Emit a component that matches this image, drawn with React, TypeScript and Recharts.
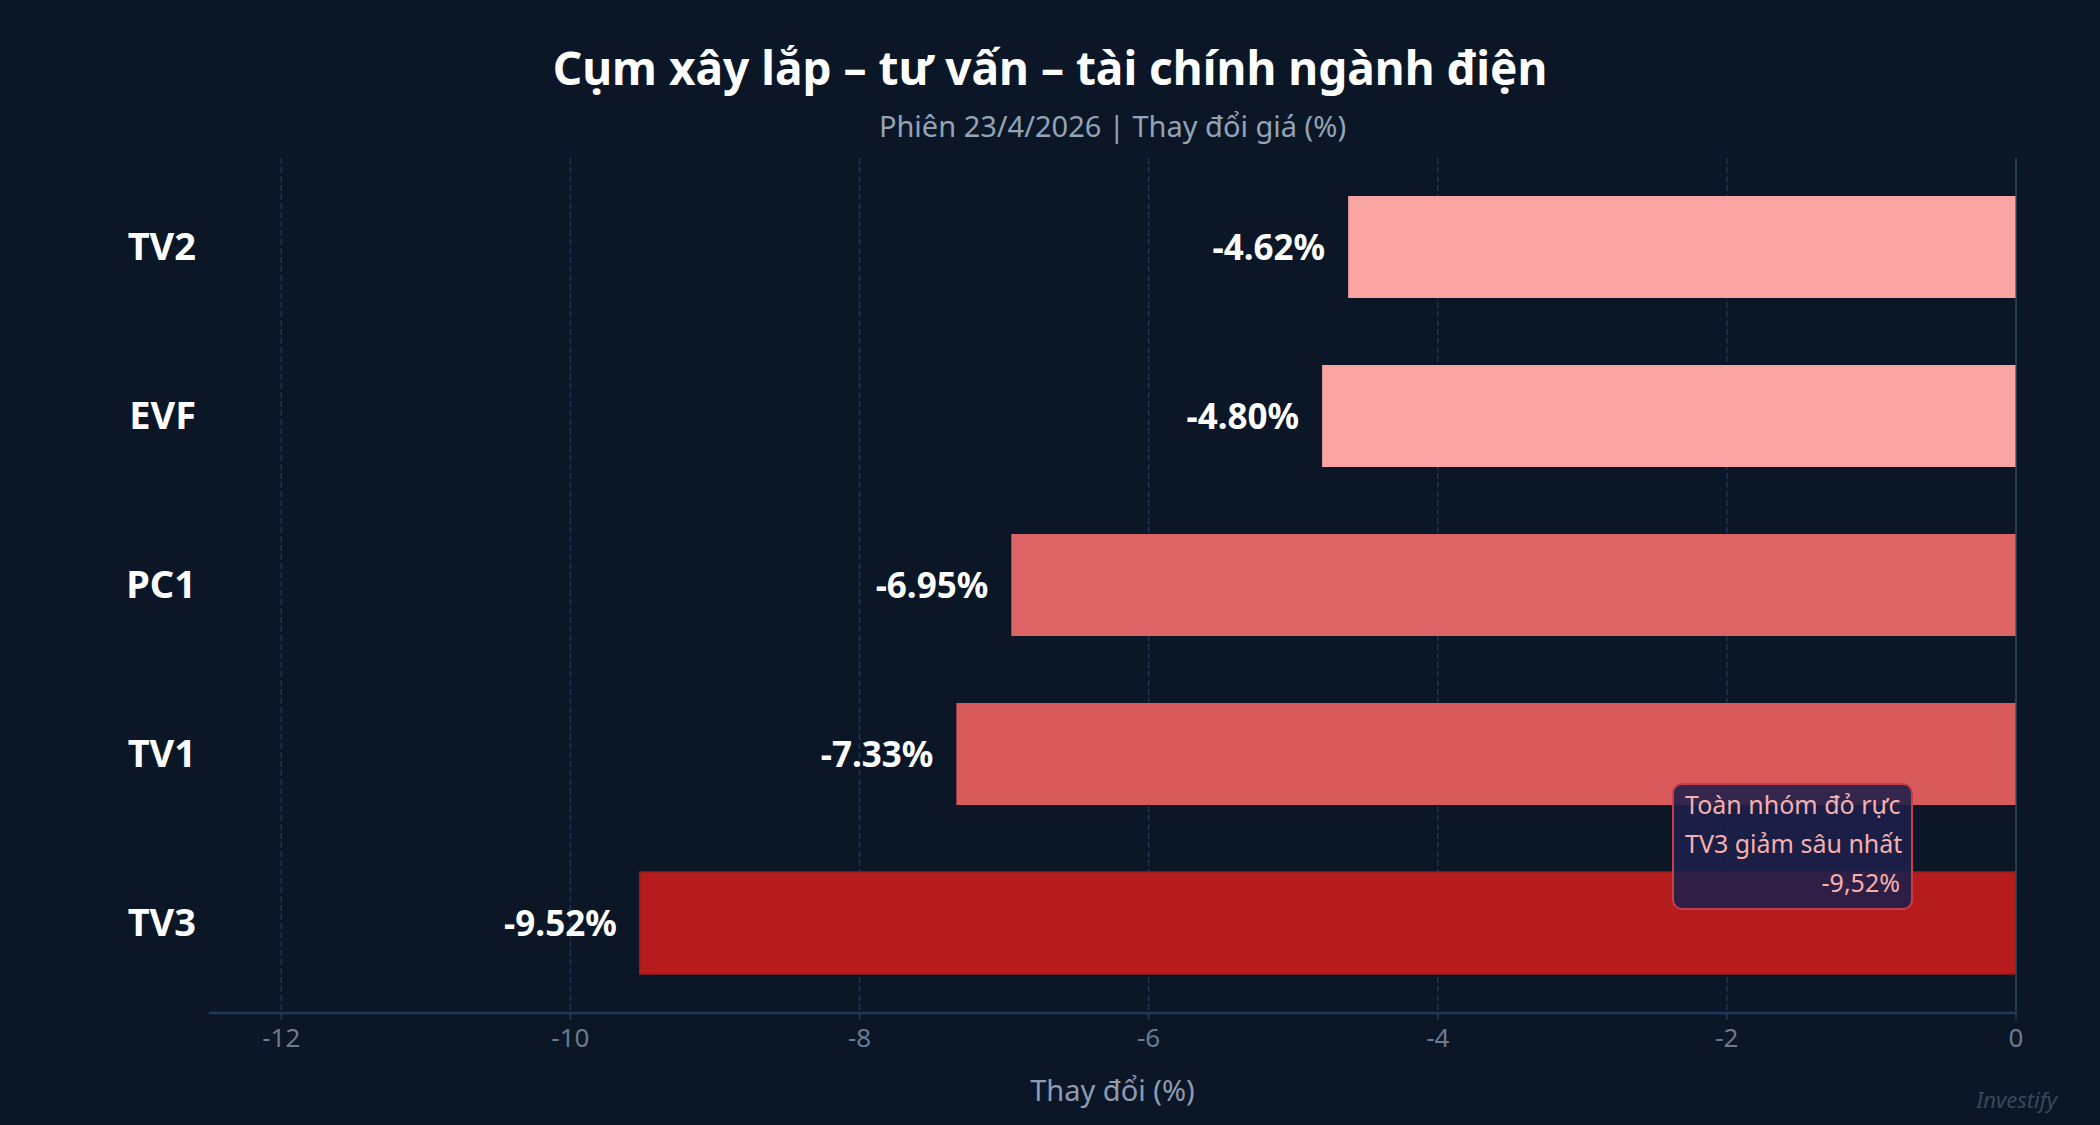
import { BarChart, Bar, XAxis, YAxis, CartesianGrid, Cell, LabelList, Label, ReferenceLine } from "recharts";

const TICKERS = ["TV2", "EVF", "PC1", "TV1", "TV3"];
const CHANGES = [-4.62, -4.8, -6.95, -7.33, -9.52];
const X_TICKS = [-12, -10, -8, -6, -4, -2, 0];
const BAR_COLORS = ["#F9A3A3", "#F9A3A3", "#DE6565", "#D85A5A", "#B71C1C"];

const TITLE = "Cụm xây lắp – tư vấn – tài chính ngành điện";
const SUBTITLE = "Phiên 23/4/2026 | Thay đổi giá (%)";
const NOTE_LINES = ["Toàn nhóm đỏ rực", "TV3 giảm sâu nhất", "-9,52%"];

const BG = "#0B1727";
const FONT = "'Noto Sans', 'DejaVu Sans', sans-serif";

const rows = TICKERS.map((name, i) => ({ name, value: CHANGES[i] }));

function TickerTick(props: any) {
  const { x, y, payload } = props;
  return (
    <text x={x} y={y} dy="0.36em" textAnchor="end" fill="#FFFFFF" fontSize={38} fontWeight={700} fontFamily={FONT}>
      {payload.value}
    </text>
  );
}

function ValueLabel(props: any) {
  const { x, y, width, height, value } = props;
  const left = Math.min(x, x + width);
  return (
    <text x={left - 23} y={y + height / 2} dy="0.36em" textAnchor="end" fill="#FFFFFF" fontSize={35} fontWeight={700} fontFamily={FONT}>
      {`${Number(value).toFixed(2)}%`}
    </text>
  );
}

export default function App() {
  return (
    <div style={{ position: "absolute", left: 0, top: 0, width: 2100, height: 1125, background: BG, fontFamily: FONT, overflow: "hidden" }}>
      <div style={{ position: "absolute", top: 39, left: 0, width: 2100, textAlign: "center", color: "#FFFFFF", fontSize: 46, lineHeight: "56px", fontWeight: 700 }}>
        {TITLE}
      </div>
      {/* subtitle is centred over the plot area */}
      <div style={{ position: "absolute", top: 109, left: 209, width: 1807, textAlign: "center", color: "#94A3B8", fontSize: 29, lineHeight: "34px" }}>
        {SUBTITLE}
      </div>

      <BarChart
        width={2100}
        height={1125}
        data={rows}
        layout="vertical"
        margin={{ top: 158, right: 84, left: 29, bottom: 0 }}
        style={{ position: "absolute", left: 0, top: 0 }}
      >
        <CartesianGrid horizontal={false} stroke="#1E3556" strokeDasharray="6 3" strokeWidth={1.5} verticalValues={X_TICKS} />
        <XAxis
          type="number"
          domain={[-12.5, 0]}
          ticks={X_TICKS}
          allowDataOverflow
          height={112}
          axisLine={{ stroke: "#1F3A60", strokeWidth: 2.5 }}
          tickLine={{ stroke: "#1F3A60", strokeWidth: 1.5 }}
          tickSize={7}
          tickMargin={9}
          tick={{ fill: "#6B7B92", fontSize: 26, fontFamily: FONT }}
        >
          <Label value="Thay đổi (%)" position="insideBottom" offset={24} fill="#8E9BB0" fontSize={29} fontFamily={FONT} />
        </XAxis>
        <YAxis
          type="category"
          dataKey="name"
          width={180}
          axisLine={false}
          tickLine={false}
          tickSize={0}
          tickMargin={13}
          padding={{ top: 4, bottom: 6 }}
          tick={<TickerTick />}
        />
        <ReferenceLine x={0} stroke="#3A4A63" strokeWidth={1.2} />
        <Bar dataKey="value" barSize={102} isAnimationActive={false}>
          {rows.map((r, i) => (
            <Cell key={r.name} fill={BAR_COLORS[i]} stroke={r.name === "TV3" ? "#991B1B" : "none"} strokeWidth={r.name === "TV3" ? 1.5 : 0} />
          ))}
          <LabelList dataKey="value" content={<ValueLabel />} />
        </Bar>
      </BarChart>

      <div
        style={{
          position: "absolute",
          left: 1672,
          top: 783,
          width: 241,
          boxSizing: "border-box",
          padding: "0 11px 6px 11px",
          border: "2px solid #C93E47",
          borderRadius: 10,
          background: "rgba(30, 32, 74, 0.88)",
          color: "#F5B1B1",
          fontSize: 25,
          lineHeight: "39px",
          textAlign: "right",
          whiteSpace: "nowrap",
        }}
      >
        {NOTE_LINES.map(line => (
          <div key={line}>{line}</div>
        ))}
      </div>

      <div style={{ position: "absolute", right: 43, top: 1086, color: "#3B4759", fontSize: 22, lineHeight: "26px", fontStyle: "italic" }}>
        Investify
      </div>
    </div>
  );
}
